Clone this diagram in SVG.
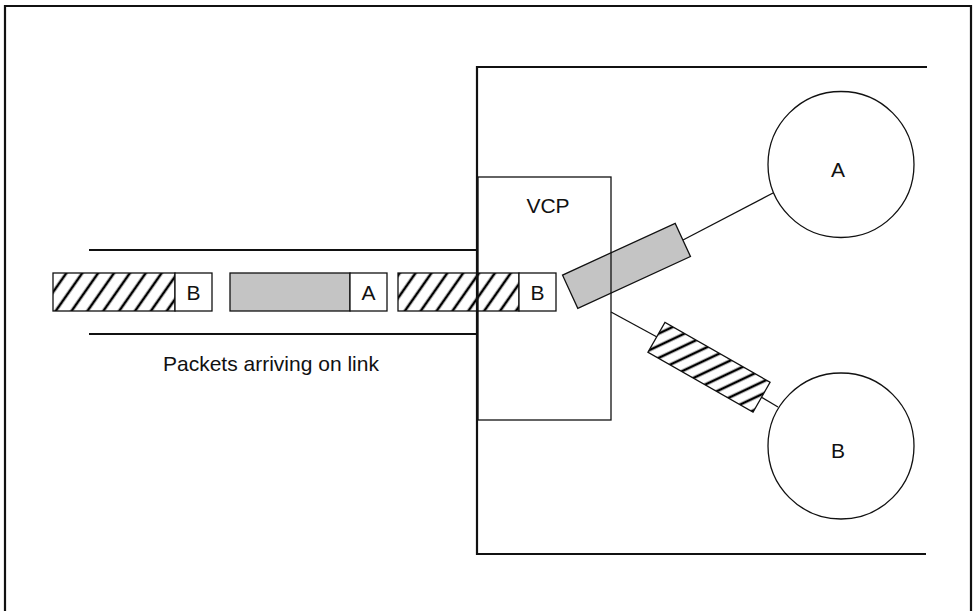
<svg xmlns="http://www.w3.org/2000/svg" width="974" height="611" viewBox="0 0 974 611">
<style>
.lbl{font-family:"Liberation Sans",Arial,sans-serif;font-size:21px;fill:#111;}
.frame{fill:none;stroke:#111;stroke-width:2.2;}
.thin{fill:none;stroke:#111;stroke-width:1.3;}
.cell{fill:#fff;stroke:#111;stroke-width:1.3;}
.gray{fill:#c4c4c4;stroke:#111;stroke-width:1.3;}
.hatchA{fill:url(#hatch1);stroke:#111;stroke-width:1.3;}
.hatchB{fill:url(#hatch2);stroke:#111;stroke-width:1.3;}
</style>
<defs>
<pattern id="hatch1" patternUnits="userSpaceOnUse" width="13" height="13" patternTransform="rotate(35)">
<rect width="13" height="13" fill="#fff"/>
<line x1="3" y1="0" x2="3" y2="13" stroke="#000" stroke-width="2.6"/>
</pattern>
<pattern id="hatch2" patternUnits="userSpaceOnUse" width="11" height="11" patternTransform="rotate(35)">
<rect width="11" height="11" fill="#fff"/>
<line x1="3" y1="0" x2="3" y2="11" stroke="#000" stroke-width="2.6"/>
</pattern>
</defs>
<rect width="974" height="611" fill="#fff"/>
<path class="frame" d="M5,611 V6 H971 V611" stroke-width="1.5"/>

<g id="link">
<line class="frame" x1="89" y1="250" x2="477" y2="250" stroke-width="2.4"/>
<line class="frame" x1="89" y1="334" x2="477" y2="334" stroke-width="2.4"/>
</g>
<text class="lbl" x="163" y="371">Packets arriving on link</text>

<g id="packet1">
<rect class="hatchA" x="53" y="273" width="122" height="38"/>
<rect class="cell" x="175" y="273" width="37" height="38"/>
<text class="lbl" x="193.5" y="300" text-anchor="middle">B</text>
</g>
<g id="packet2">
<rect class="gray" x="230" y="273" width="120" height="38"/>
<rect class="cell" x="350" y="273" width="37" height="38"/>
<text class="lbl" x="368.5" y="300" text-anchor="middle">A</text>
</g>
<g id="packet3">
<rect class="hatchA" x="398" y="273" width="121" height="38"/>
<rect class="cell" x="519" y="273" width="37" height="38"/>
<text class="lbl" x="537.5" y="300" text-anchor="middle">B</text>
</g>

<g id="connectors">
<line class="thin" x1="683" y1="240" x2="773" y2="193"/>
<line class="thin" x1="611" y1="312" x2="657" y2="337"/>
<line class="thin" x1="761" y1="397" x2="778" y2="407"/>
</g>

<g id="packetA-out">
<rect class="gray" x="-62" y="-18.3" width="124" height="36.6" transform="translate(626.5,265.8) rotate(-24.7)"/>
</g>
<g id="packetB-out">
<rect class="hatchB" x="-60.5" y="-17.2" width="121" height="34.4" transform="translate(709,367.3) rotate(29.7)"/>
</g>

<g id="switch">
<path class="frame" d="M927,67 H477 V554 H926" stroke-width="2.4"/>
</g>
<g id="vcp">
<rect class="thin" x="478" y="177" width="133" height="243"/>
<text class="lbl" x="548" y="213" text-anchor="middle">VCP</text>
</g>

<g id="nodeA">
<circle class="thin" cx="841" cy="164.5" r="73"/>
<text class="lbl" x="838" y="177" text-anchor="middle">A</text>
</g>
<g id="nodeB">
<circle class="thin" cx="841" cy="446" r="73"/>
<text class="lbl" x="838" y="458" text-anchor="middle">B</text>
</g>
</svg>
